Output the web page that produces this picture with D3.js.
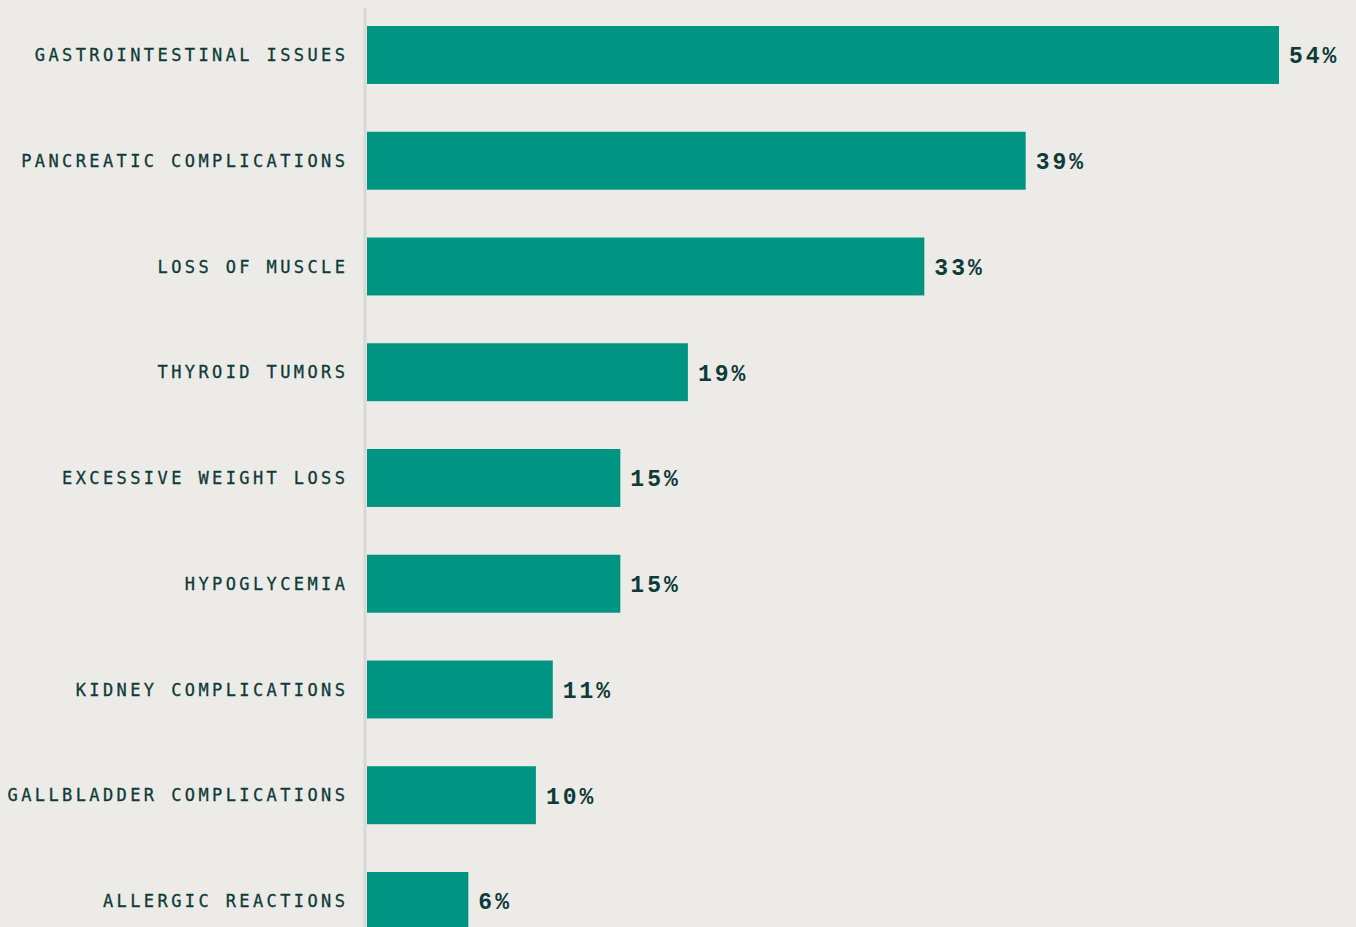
<!DOCTYPE html>
<html>
<head>
<meta charset="utf-8">
<script src="https://cdn.jsdelivr.net/npm/d3@7"></script>
<style>
  html, body { margin: 0; padding: 0; background: #ecebe7; }
  svg { display: block; }
</style>
</head>
<body>
<svg id="chart" width="1356" height="927"></svg>
<script>
// Reported side effects, share of respondents (%)
const categories = [
  "GASTROINTESTINAL ISSUES",
  "PANCREATIC COMPLICATIONS",
  "LOSS OF MUSCLE",
  "THYROID TUMORS",
  "EXCESSIVE WEIGHT LOSS",
  "HYPOGLYCEMIA",
  "KIDNEY COMPLICATIONS",
  "GALLBLADDER COMPLICATIONS",
  "ALLERGIC REACTIONS"
];
const values = [54, 39, 33, 19, 15, 15, 11, 10, 6];

const svg = d3.select("#chart");
const plotLeft = 367, plotRight = 1279;
const step = 105.75, plotTop = 26 - step * 0.226;

const x = d3.scaleLinear().domain([0, 54]).range([plotLeft, plotRight]);
const y = d3.scaleBand()
  .domain(categories)
  .range([plotTop, plotTop + step * categories.length])
  .paddingInner(0.452)
  .paddingOuter(0.226);

// baseline axis
svg.append("line")
  .attr("x1", plotLeft - 2).attr("x2", plotLeft - 2)
  .attr("y1", 8).attr("y2", 927)
  .attr("stroke", "#d9d8d4").attr("stroke-width", 3);

const rows = categories.map((c, i) => ({ c, v: values[i] }));

svg.selectAll("rect.bar").data(rows).join("rect")
  .attr("class", "bar")
  .attr("x", x(0))
  .attr("y", d => y(d.c))
  .attr("width", d => x(d.v) - x(0))
  .attr("height", y.bandwidth())
  .attr("fill", "#009482");

const catSpacing = 3.4;
svg.selectAll("text.cat").data(rows).join("text")
  .attr("class", "cat")
  .attr("x", 345 + catSpacing)
  .attr("y", d => y(d.c) + y.bandwidth() / 2)
  .attr("dy", "0.36em")
  .attr("text-anchor", "end")
  .attr("font-family", "'DejaVu Sans Mono', 'Liberation Mono', monospace")
  .attr("font-size", 17)
  .attr("letter-spacing", catSpacing + "px")
  .attr("fill", "#0f3a38")
  .attr("stroke", "#0f3a38")
  .attr("stroke-width", 0.3)
  .text(d => d.c);

svg.selectAll("text.val").data(rows).join("text")
  .attr("class", "val")
  .attr("x", d => x(d.v) + 10)
  .attr("y", d => y(d.c) + y.bandwidth() / 2)
  .attr("dy", "0.36em")
  .attr("font-family", "'Liberation Mono', monospace")
  .attr("font-size", 23)
  .attr("font-weight", 700)
  .attr("letter-spacing", "3px")
  .attr("fill", "#0f3a38")
  .text(d => d.v + "%");
</script>
</body>
</html>
